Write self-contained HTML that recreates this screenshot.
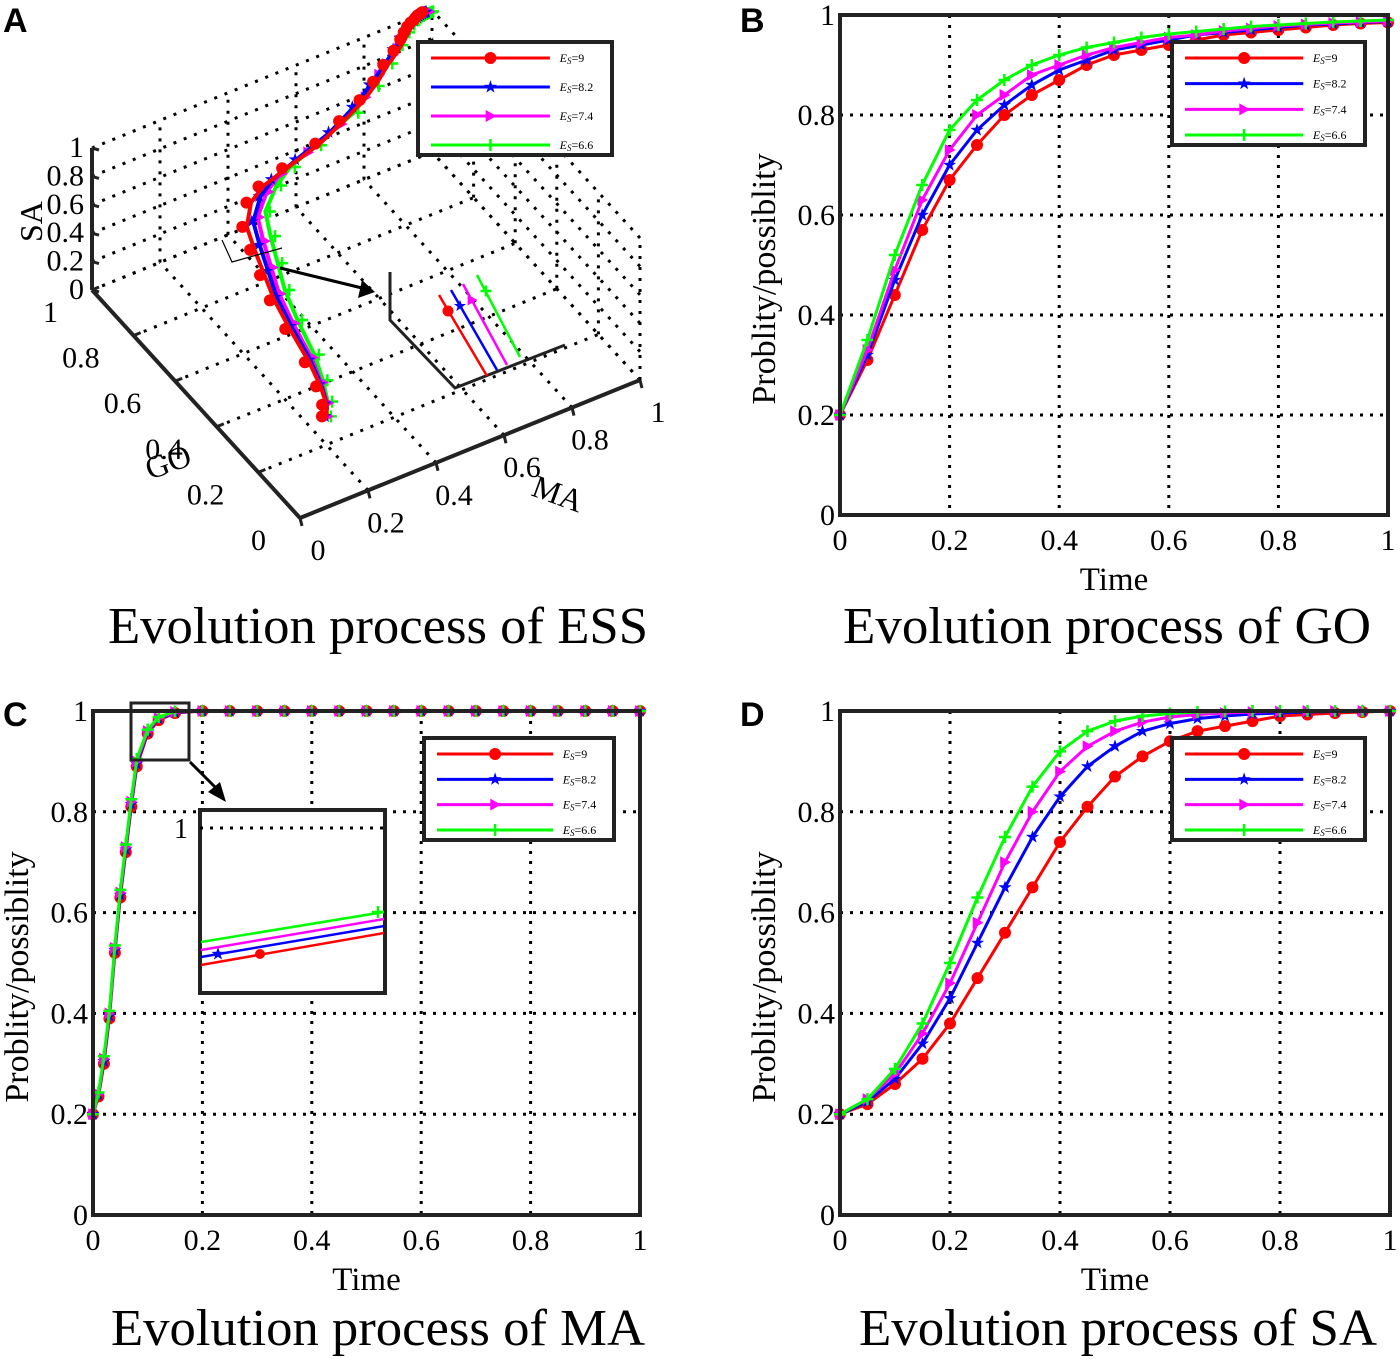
<!DOCTYPE html>
<html><head><meta charset="utf-8"><style>
html,body{margin:0;padding:0;background:#fff;}
svg{display:block;font-family:"Liberation Serif",serif;}
</style></head><body>
<svg id="fig" width="1400" height="1359" viewBox="0 0 1400 1359" xmlns="http://www.w3.org/2000/svg">
<g font-family="Liberation Sans, sans-serif" font-weight="bold" font-size="34">
<text x="3" y="32">A</text><text x="740" y="32">B</text><text x="3" y="726">C</text><text x="740" y="726">D</text>
</g>
<g font-size="52" text-anchor="middle">
<text x="378" y="643" textLength="540" lengthAdjust="spacingAndGlyphs">Evolution process of ESS</text>
<text x="1107" y="643" textLength="528" lengthAdjust="spacingAndGlyphs">Evolution process of GO</text>
<text x="378" y="1345" textLength="534" lengthAdjust="spacingAndGlyphs">Evolution process of MA</text>
<text x="1118" y="1345" textLength="518" lengthAdjust="spacingAndGlyphs">Evolution process of SA</text>
</g>
<g id="layer"></g>
</svg>
<script>
// ---- data ----
const timeBD = [0,0.05,0.1,0.15,0.2,0.25,0.3,0.35,0.4,0.45,0.5,0.55,0.6,0.65,0.7,0.75,0.8,0.85,0.9,0.95,1];
const timeC = [0,0.01,0.02,0.03,0.04,0.05,0.06,0.07,0.08,0.1,0.12,0.15,0.2,0.25,0.3,0.35,0.4,0.45,0.5,0.55,0.6,0.65,0.7,0.75,0.8,0.85,0.9,0.95,1];
const seriesLabels = ["9","8.2","7.4","6.6"];
const seriesColors = ["#ff0000","#0000ff","#ff00ff","#00ff00"];
const goES9  = [0.2,0.31,0.44,0.57,0.67,0.74,0.8,0.84,0.87,0.9,0.92,0.93,0.94,0.95,0.96,0.965,0.97,0.975,0.98,0.983,0.985];
const goES82 = [0.2,0.32,0.47,0.6,0.7,0.77,0.82,0.86,0.89,0.91,0.93,0.94,0.95,0.96,0.965,0.97,0.975,0.98,0.982,0.985,0.987];
const goES74 = [0.2,0.33,0.49,0.63,0.73,0.8,0.84,0.88,0.9,0.92,0.935,0.945,0.955,0.96,0.968,0.973,0.978,0.981,0.984,0.986,0.988];
const goES66 = [0.2,0.35,0.52,0.66,0.77,0.83,0.87,0.9,0.92,0.935,0.945,0.955,0.962,0.967,0.972,0.977,0.98,0.983,0.986,0.988,0.99];
const maES9  = [0.2,0.235,0.3,0.39,0.52,0.63,0.72,0.81,0.89,0.955,0.982,0.996,1,1,1,1,1,1,1,1,1,1,1,1,1,1,1,1,1];
const maES82 = [0.2,0.238,0.305,0.395,0.525,0.635,0.725,0.815,0.895,0.958,0.984,0.997,1,1,1,1,1,1,1,1,1,1,1,1,1,1,1,1,1];
const maES74 = [0.2,0.24,0.31,0.4,0.53,0.64,0.73,0.82,0.9,0.96,0.986,0.998,1,1,1,1,1,1,1,1,1,1,1,1,1,1,1,1,1];
const maES66 = [0.2,0.243,0.315,0.405,0.535,0.645,0.735,0.825,0.905,0.963,0.988,0.999,1,1,1,1,1,1,1,1,1,1,1,1,1,1,1,1,1];
const saES9  = [0.2,0.22,0.26,0.31,0.38,0.47,0.56,0.65,0.74,0.81,0.87,0.91,0.94,0.96,0.97,0.98,0.99,0.993,0.996,0.998,1];
const saES82 = [0.2,0.225,0.27,0.34,0.43,0.54,0.65,0.75,0.83,0.89,0.93,0.96,0.975,0.985,0.99,0.994,0.996,0.998,0.999,1,1];
const saES74 = [0.2,0.23,0.28,0.36,0.46,0.58,0.7,0.8,0.88,0.93,0.96,0.978,0.988,0.993,0.996,0.998,0.999,1,1,1,1];
const saES66 = [0.2,0.23,0.29,0.38,0.5,0.63,0.75,0.85,0.92,0.96,0.98,0.99,0.995,0.998,0.999,1,1,1,1,1,1];
const tickVals = [0,0.2,0.4,0.6,0.8,1];
const tickLabels = ["0","0.2","0.4","0.6","0.8","1"];

const NS="http://www.w3.org/2000/svg";
const layer=document.getElementById('layer');
function el(tag,attrs,parent){const e=document.createElementNS(NS,tag);for(const k in attrs)e.setAttribute(k,attrs[k]);(parent||layer).appendChild(e);return e;}

function marker(g,k,x,y,s){
  const c=seriesColors[k];let m;
  if(k===0){m=el('circle',{cx:x,cy:y,r:s},g);m.setAttribute('fill',c);}
  else if(k===1){let p=[];for(let i=0;i<10;i++){const r=i%2?s*0.45:s*1.15;const a=-Math.PI/2+i*Math.PI/5;p.push((x+r*Math.cos(a)).toFixed(1)+','+(y+r*Math.sin(a)).toFixed(1));}m=el('polygon',{points:p.join(' '),fill:c},g);}
  else if(k===2){m=el('polygon',{points:`${x-s*0.8},${y-s} ${x+s},${y} ${x-s*0.8},${y+s}`,fill:c},g);}
  else {m=el('path',{d:`M${x-s},${y}H${x+s}M${x},${y-s}V${y+s}`,stroke:c,'stroke-width':2.5},g);}
  
  
}

function legend(x,y,w,h,name){
  const g=el('g',{});
  
  
  el('rect',{x:x,y:y,width:w,height:h,fill:'#fff',stroke:'#222','stroke-width':4},g);
  for(let k=0;k<4;k++){
    const yy=y+16+k*(h-26)/3;
    const e=el('g',{},g);
    
    
    el('line',{x1:x+13,y1:yy,x2:x+w*0.68,y2:yy,stroke:seriesColors[k],'stroke-width':3},e);
    marker(e,k,x+13+(w*0.68-13)/2,yy,6);
    const t=el('text',{x:x+w*0.73,y:yy+4,'font-size':12},e);
    t.innerHTML='<tspan font-style="italic">E</tspan><tspan font-style="italic" font-size="9" dy="2">S</tspan><tspan dy="-2">='+seriesLabels[k]+'</tspan>';
  }
}

function plot2d(o){
  const {L,T,R,B,xs,ys,name}=o;
  const g=el('g',{});
  
  
  const X=v=>L+v*(R-L), Y=v=>B-v*(B-T);
  tickVals.forEach((v,i)=>{
    if(i>0&&i<5){el('line',{x1:X(v),y1:T,x2:X(v),y2:B,stroke:'#000','stroke-width':3,'stroke-dasharray':'3,7'},g);
      el('line',{x1:L,y1:Y(v),x2:R,y2:Y(v),stroke:'#000','stroke-width':3,'stroke-dasharray':'3,7'},g);}
    const tx=el('text',{x:X(v),y:B+35,'font-size':30,'text-anchor':'middle'},g);tx.textContent=tickLabels[i];
    
    const ty=el('text',{x:L-5,y:Y(v)+10,'font-size':30,'text-anchor':'end'},g);ty.textContent=tickLabels[i];
    
  });
  ys.forEach((arr,k)=>{
    const s=el('g',{},g);
    
    
    el('polyline',{points:arr.map((v,i)=>X(xs[i]).toFixed(1)+','+Y(v).toFixed(1)).join(' '),fill:'none',stroke:seriesColors[k],'stroke-width':3},s);
    arr.forEach((v,i)=>marker(s,k,X(xs[i]),Y(v),6));
  });
  el('rect',{x:L,y:T,width:R-L,height:B-T,fill:'none',stroke:'#222','stroke-width':4},g);
  const xl=el('text',{x:(L+R)/2,y:B+75,'font-size':33,'text-anchor':'middle'},g);xl.textContent='Time';
  
  const cy=(T+B)/2+14, cx=L-65;
  const yl=el('text',{x:cx,y:cy,'font-size':34,'text-anchor':'middle',transform:`rotate(-90 ${cx} ${cy})`},g);yl.textContent='Problity/possiblity';
  
  return {X,Y,g};
}

plot2d({L:840,T:15,R:1388,B:515,xs:timeBD,ys:[goES9,goES82,goES74,goES66],name:'chart-go'});
legend(1172,42,193,103,'legend-go');
plot2d({L:93,T:711,R:640,B:1215,xs:timeC,ys:[maES9,maES82,maES74,maES66],name:'chart-ma'});
legend(424,738,190,102,'legend-ma');
plot2d({L:840,T:711,R:1390,B:1215,xs:timeBD,ys:[saES9,saES82,saES74,saES66],name:'chart-sa'});
legend(1172,738,193,102,'legend-sa');

// inset C
(function(){
  const g=el('g',{});
  el('rect',{x:131,y:703,width:58,height:57,fill:'none',stroke:'#222','stroke-width':3},g);
  el('line',{x1:190,y1:762,x2:218,y2:790,stroke:'#000','stroke-width':3},g);
  el('polygon',{points:'226,802 208,792 220,782',fill:'#000'},g);
  el('rect',{x:200,y:810,width:185,height:183,fill:'#fff',stroke:'#222','stroke-width':4},g);
  el('line',{x1:200,y1:828,x2:385,y2:828,stroke:'#000','stroke-width':3,'stroke-dasharray':'3,7'},g);
  const t=el('text',{x:188,y:838,'font-size':28,'text-anchor':'end'},g);t.textContent='1';
  const y0=[965,957,950,942],y1=[933,926,919,912];
  for(let k=0;k<4;k++)el('line',{x1:201,y1:y0[k],x2:384,y2:y1[k],stroke:seriesColors[k],'stroke-width':2.5},g);
  marker(g,0,260,954,5);marker(g,1,218,954,6);marker(g,3,378,912,6);
})();

// ---- panel A 3D ----
(function(){
  const g=el('g',{});
  const O=[300,518],vGO=[-208,-228],vMA=[340,-138],vSA=[0,-142];
  const P=(go,ma,sa)=>[O[0]+go*vGO[0]+ma*vMA[0]+sa*vSA[0],O[1]+go*vGO[1]+ma*vMA[1]+sa*vSA[1]];
  const dl=(a,b)=>el('line',{x1:a[0],y1:a[1],x2:b[0],y2:b[1],stroke:'#000','stroke-width':3,'stroke-dasharray':'3,8'},g);
  tickVals.forEach(v=>{
    dl(P(v,0,0),P(v,1,0)); dl(P(0,v,0),P(1,v,0));
    dl(P(1,v,0),P(1,v,1)); dl(P(1,0,v),P(1,1,v));
    dl(P(v,1,0),P(v,1,1)); dl(P(0,1,v),P(1,1,v));
  });
  const sl=(a,b,w)=>el('line',{x1:a[0],y1:a[1],x2:b[0],y2:b[1],stroke:'#222','stroke-width':w||4},g);
  sl(P(0,0,0),P(1,0,0));sl(P(0,0,0),P(0,1,0));sl(P(1,0,0),P(1,0,1));
  tickVals.forEach((v,i)=>{
    let a=P(v,0,0);sl(a,[a[0]+7,a[1]-3],3);
    a=P(0,v,0);sl(a,[a[0]+2,a[1]+8],3);
    a=P(1,0,v);sl(a,[a[0]+7,a[1]+2],3);
    let t;const lab=tickLabels[i];
    a=P(v,0,0);t=el('text',{x:a[0]-34,y:a[1]+32,'font-size':30,'text-anchor':'end'},g);t.textContent=lab;
    a=P(0,v,0);t=el('text',{x:a[0]+18,y:a[1]+42,'font-size':30,'text-anchor':'middle'},g);t.textContent=lab;
    a=P(1,0,v);t=el('text',{x:a[0]-8,y:a[1]+9,'font-size':30,'text-anchor':'end'},g);t.textContent=lab;
  });
  let t=el('text',{x:150,y:480,'font-size':32,transform:'rotate(-20 150 480)'},g);t.textContent='GO';
  t=el('text',{x:530,y:495,'font-size':32,transform:'rotate(20 530 495)'},g);t.textContent='MA';
  t=el('text',{x:42,y:242,'font-size':32,transform:'rotate(-90 42 242)'},g);t.textContent='SA';
  const goS=[goES9,goES82,goES74,goES66],maS=[maES9,maES82,maES74,maES66],saS=[saES9,saES82,saES74,saES66];
  for(let k=3;k>=0;k--){
    const s=el('g',{},g);
    // trajectory sampled on the MA time grid; GO and SA values looked up at nearest shared time
    const pts=timeC.map((tv,i)=>{const j=Math.round(tv/0.05);const f=tv/0.05-Math.floor(tv/0.05);
      const jl=Math.floor(tv/0.05),ju=Math.min(jl+1,20);
      const go=goS[k][jl]+(goS[k][ju]-goS[k][jl])*f, sa=saS[k][jl]+(saS[k][ju]-saS[k][jl])*f;
      return P(maS[k][i],go,sa);});
    el('polyline',{points:pts.map(p=>p[0].toFixed(1)+','+p[1].toFixed(1)).join(' '),fill:'none',stroke:seriesColors[k],'stroke-width':4},s);
    pts.forEach(p=>marker(s,k,p[0]+(k-1.5)*3,p[1],6));
  }
  // inset
  const ig=el('g',{},g);
  el('path',{d:'M222,240 L232,262 L282,248',fill:'none',stroke:'#000','stroke-width':1.2},ig);
  el('line',{x1:280,y1:268,x2:362,y2:288,stroke:'#000','stroke-width':3},ig);
  el('polygon',{points:'375,292 358,298 362,280',fill:'#000'},ig);
  el('path',{d:'M390,272 V320 L455,388 L565,345',fill:'none',stroke:'#222','stroke-width':3},ig);
  const xa=[439,451,463,477],xb=[487,497,507,520],ya=[295,290,284,275],yb=[376,370,365,357];
  for(let k=0;k<4;k++){el('line',{x1:xa[k],y1:ya[k],x2:xb[k],y2:yb[k],stroke:seriesColors[k],'stroke-width':2.5},ig);
    marker(ig,k,xa[k]+9,ya[k]+16,5.5);}
  legend(418,42,194,113,'legend-ess');
})();
</script>
</body></html>
